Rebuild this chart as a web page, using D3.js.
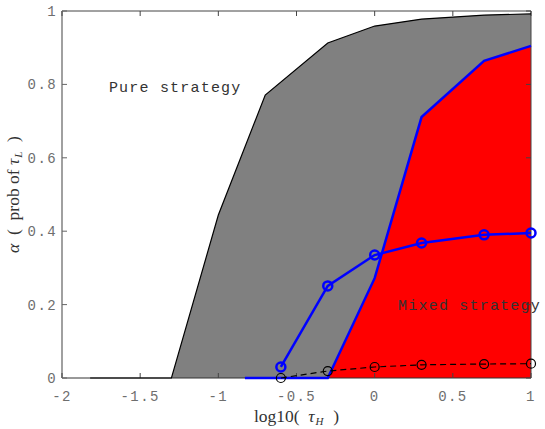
<!DOCTYPE html>
<html>
  <head>
    <meta charset="utf-8" />
    <script src="https://d3js.org/d3.v7.min.js"></script>
    <style>
      body { margin: 0; background: #fff; }
      .tick-label { font-family: "Liberation Mono", monospace; font-size: 14px; fill: #6e6e6e; letter-spacing: 1.4px; }
      .note { font-family: "Liberation Mono", monospace; font-size: 15px; fill: #333; letter-spacing: 1.2px; }
      .axis-title { font-family: "Liberation Serif", serif; font-size: 17.5px; fill: #333; white-space: pre; }
    </style>
  </head>
  <body>
    <svg id="chart" width="545" height="429"></svg>
    <script>
      // boundary of the pure strategy region (grey)
      const xPure = [-1.82, -1.3, -1, -0.7, -0.3, 0, 0.3, 0.7, 1];
      const alphaPure = [0, 0, 0.444, 0.771, 0.913, 0.959, 0.978, 0.989, 0.992];
      // boundary of the mixed strategy region (red)
      const xMixed = [-0.83, -0.3, 0, 0.3, 0.7, 1];
      const alphaMixed = [0, 0, 0.272, 0.711, 0.864, 0.905];
      // marker series
      const xMarker = [-0.6, -0.3, 0, 0.3, 0.7, 1];
      const alphaBlue = [0.03, 0.251, 0.335, 0.368, 0.39, 0.395];
      const alphaBlack = [0, 0.019, 0.03, 0.036, 0.038, 0.039];
      const xTicks = [-2, -1.5, -1, -0.5, 0, 0.5, 1];
      const yTicks = [0, 0.2, 0.4, 0.6, 0.8, 1];

      const svg = d3.select("svg#chart");
      const margin = { top: 11, right: 14, bottom: 51, left: 62 };
      const width = 545 - margin.left - margin.right;
      const height = 429 - margin.top - margin.bottom;

      const x = d3.scaleLinear().domain([-2, 1]).range([0, width]);
      const y = d3.scaleLinear().domain([0, 1]).range([height, 0]);

      const g = svg.append("g").attr("transform", `translate(${margin.left},${margin.top})`);

      const zip = (xs, ys) => xs.map((v, i) => [v, ys[i]]);
      const area = d3.area().x((d) => x(d[0])).y0(y(0)).y1((d) => y(d[1]));
      const line = d3.line().x((d) => x(d[0])).y((d) => y(d[1]));

      const pure = zip(xPure, alphaPure);
      const mixed = zip(xMixed, alphaMixed);
      const blue = zip(xMarker, alphaBlue);
      const black = zip(xMarker, alphaBlack);

      g.append("path").datum(pure).attr("d", area).attr("fill", "#808080");
      g.append("path").datum(mixed).attr("d", area).attr("fill", "#ff0000");

      // axes box with inward ticks
      const axes = g.append("g");
      axes.append("line").attr("x1", 0).attr("x2", width).attr("y1", 0).attr("y2", 0).attr("stroke", "#444");
      axes.append("line").attr("x1", 0).attr("x2", width).attr("y1", height).attr("y2", height).attr("stroke", "#333");
      axes.append("line").attr("x1", width).attr("x2", width).attr("y1", 0).attr("y2", height).attr("stroke", "#444");
      axes.append("line").attr("x1", 0).attr("x2", 0).attr("y1", 0).attr("y2", height).attr("stroke", "#808080").attr("stroke-width", 1.5);

      xTicks.forEach((t) => {
        axes.append("line").attr("x1", x(t)).attr("x2", x(t)).attr("y1", height).attr("y2", height - 5).attr("stroke", "#444");
        axes.append("line").attr("x1", x(t)).attr("x2", x(t)).attr("y1", 0).attr("y2", 5).attr("stroke", "#444");
        axes.append("text").attr("class", "tick-label")
          .attr("x", x(t)).attr("y", height + 23).attr("text-anchor", "middle")
          .text(String(t));
      });
      yTicks.forEach((t) => {
        axes.append("line").attr("x1", 0).attr("x2", 5).attr("y1", y(t)).attr("y2", y(t)).attr("stroke", "#666");
        axes.append("line").attr("x1", width).attr("x2", width - 5).attr("y1", y(t)).attr("y2", y(t)).attr("stroke", "#444");
        axes.append("text").attr("class", "tick-label")
          .attr("x", -5).attr("y", y(t) + 5).attr("text-anchor", "end")
          .text(String(t));
      });

      // boundary lines
      g.append("path").datum(pure).attr("d", line).attr("fill", "none").attr("stroke", "#000").attr("stroke-width", 1.2);
      g.append("path").datum(mixed).attr("d", line).attr("fill", "none").attr("stroke", "#0000ff").attr("stroke-width", 2.5);

      // blue series
      g.append("path").datum(blue).attr("d", line).attr("fill", "none").attr("stroke", "#0000ff").attr("stroke-width", 2.5);
      g.selectAll("circle.blue").data(blue).join("circle").attr("class", "blue")
        .attr("cx", (d) => x(d[0])).attr("cy", (d) => y(d[1])).attr("r", 4.5)
        .attr("fill", "none").attr("stroke", "#0000ff").attr("stroke-width", 2.5);

      // black dashed series
      g.append("path").datum(black).attr("d", line).attr("fill", "none").attr("stroke", "#000")
        .attr("stroke-width", 1.2).attr("stroke-dasharray", "6,4");
      g.selectAll("circle.black").data(black).join("circle").attr("class", "black")
        .attr("cx", (d) => x(d[0])).attr("cy", (d) => y(d[1])).attr("r", 4.5)
        .attr("fill", "none").attr("stroke", "#000").attr("stroke-width", 1.2);

      // annotations
      g.append("text").attr("class", "note").attr("x", x(-1.7)).attr("y", y(0.78)).text("Pure strategy");
      g.append("text").attr("class", "note").attr("x", x(0.15)).attr("y", y(0.185)).text("Mixed strategy");

      // axis titles
      const xt = svg.append("text").attr("class", "axis-title")
        .attr("x", margin.left + width / 2).attr("y", 422).attr("text-anchor", "middle");
      xt.append("tspan").text("log10(  ");
      xt.append("tspan").attr("font-style", "italic").text("\u03C4");
      xt.append("tspan").attr("font-style", "italic").attr("font-size", "11px").attr("dx", 1).attr("dy", 3).text("H");
      xt.append("tspan").attr("dy", -3).attr("dx", 1).text("  )");

      const yt = svg.append("text").attr("class", "axis-title")
        .attr("transform", `translate(19,${margin.top + height / 2}) rotate(-90)`).attr("text-anchor", "middle");
      yt.append("tspan").attr("font-style", "italic").text("\u03B1");
      yt.append("tspan").text("  (  prob of ");
      yt.append("tspan").attr("font-style", "italic").text("\u03C4");
      yt.append("tspan").attr("font-style", "italic").attr("font-size", "11px").attr("dx", 1).attr("dy", 3).text("L");
      yt.append("tspan").attr("dy", -3).attr("dx", 1).text("  )");
    </script>
  </body>
</html>
